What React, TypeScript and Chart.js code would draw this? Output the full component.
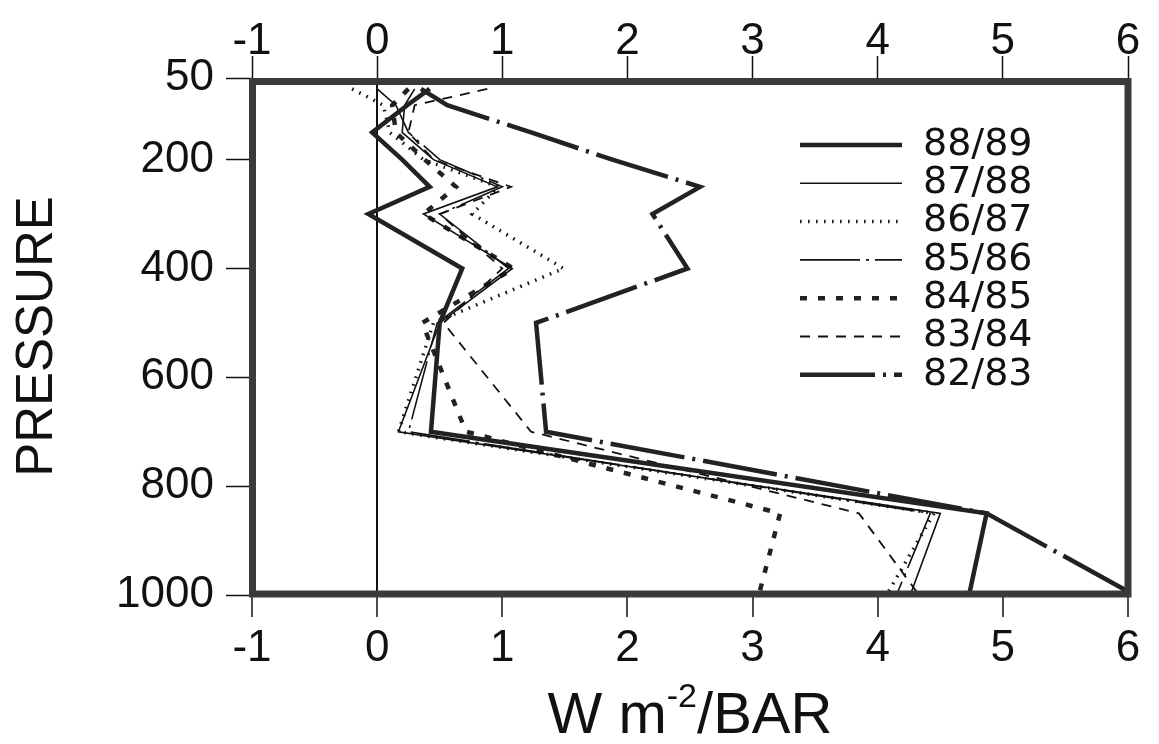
import React, { useEffect, useRef } from 'react';
import { Chart, registerables } from 'chart.js';

Chart.register(...registerables);

// ---------- data ----------
const PRESSURE_LEVELS = [70, 100, 150, 200, 250, 300, 400, 500, 700, 850, 1000];
const SERIES_NAMES = ['88/89', '87/88', '86/87', '85/86', '84/85', '83/84', '82/83'];

const S_88_89 = [0.42, 0.24, -0.04, 0.2, 0.42, -0.07, 0.68, 0.5, 0.43, 4.87, 4.73];
const S_87_88 = [0.3, 0.22, 0.2, 0.45, 0.96, 0.37, 1.08, 0.5, 0.17, 4.5, 4.26];
const S_86_87 = [-0.2, 0.05, 0.1, 0.37, 0.97, 0.76, 1.49, 0.45, 0.17, 4.45, 4.07];
const S_85_86 = [0.0, 0.15, 0.25, 0.5, 1.0, 0.5, 1.05, 0.48, 0.25, 4.42, 4.15];
const S_84_85 = [0.25, 0.12, 0.15, 0.38, 0.63, 0.37, 1.09, 0.36, 0.71, 3.22, 3.05];
const S_83_84 = [0.88, 0.3, 0.25, 0.45, 1.07, 0.5, 1.0, 0.53, 1.23, 3.85, 4.33];
const S_82_83 = [0.35, 0.56, 1.23, 1.88, 2.58, 2.2, 2.48, 1.27, 1.35, 4.87, 6.05];

const SERIES_VALUES = [S_88_89, S_87_88, S_86_87, S_85_86, S_84_85, S_83_84, S_82_83];

const X_MIN = -1;
const X_MAX = 6;
const PRESSURE_MIN = 50;
const PRESSURE_MAX = 1000;
const PRESSURE_TICKS = [50, 200, 400, 600, 800, 1000];

// ---------- styles ----------
const LINE_STYLES = [
  { width: 4.5, dash: [] as number[], color: '#222' },
  { width: 1.6, dash: [] as number[], color: '#111' },
  { width: 3.5, dash: [1.6, 6.4], color: '#111' },
  { width: 1.6, dash: [60, 6, 3, 6], color: '#111' },
  { width: 4.5, dash: [7, 11], color: '#222' },
  { width: 1.8, dash: [10, 8], color: '#111' },
  { width: 4.5, dash: [75, 8, 3, 8], color: '#222' },
];

const TICK_FONT = { family: "'Liberation Sans', Arial, Helvetica, sans-serif", size: 44 };

const framePlugin = {
  id: 'frameAndLegend',
  afterDraw(chart: any) {
    const ctx = chart.ctx;
    const ca = chart.chartArea;
    ctx.save();
    // frame
    ctx.strokeStyle = '#3a3a3a';
    ctx.lineWidth = 7;
    ctx.setLineDash([]);
    ctx.strokeRect(ca.left + 0.5, ca.top + 3.5, ca.right - ca.left - 0.5, ca.bottom - ca.top - 4.5);

    // legend
    const rowY0 = 145;
    const rowGap = 38.3;
    SERIES_NAMES.forEach((name, i) => {
      const st = LINE_STYLES[i];
      const y = rowY0 + i * rowGap;
      ctx.beginPath();
      ctx.setLineDash(st.dash);
      ctx.lineWidth = st.width;
      ctx.strokeStyle = st.color;
      ctx.lineCap = 'butt';
      ctx.moveTo(800, y);
      ctx.lineTo(902, y);
      ctx.stroke();
      ctx.setLineDash([]);
      ctx.fillStyle = '#111';
      ctx.font = "38px 'DejaVu Sans', sans-serif";
      ctx.textBaseline = 'middle';
      ctx.textAlign = 'left';
      ctx.fillText(name, 923, y);
    });

    // x-axis title with superscript
    const big = "58px 'Liberation Sans', Arial, sans-serif";
    const small = "34px 'Liberation Sans', Arial, sans-serif";
    const p1 = 'W m';
    const sup = '-2';
    const p2 = '/BAR';
    ctx.font = big;
    const w1 = ctx.measureText(p1).width;
    const w3 = ctx.measureText(p2).width;
    ctx.font = small;
    const w2 = ctx.measureText(sup).width;
    const total = w1 + w2 + w3;
    const cx = (ca.left + ca.right) / 2;
    let x = cx - total / 2;
    const base = 733;
    ctx.textBaseline = 'alphabetic';
    ctx.textAlign = 'left';
    ctx.fillStyle = '#111';
    ctx.font = big;
    ctx.fillText(p1, x, base);
    x += w1;
    ctx.font = small;
    ctx.fillText(sup, x, base - 26);
    x += w2;
    ctx.font = big;
    ctx.fillText(p2, x, base);
    ctx.restore();
  },
};

export default function App() {
  const canvasRef = useRef<HTMLCanvasElement | null>(null);

  useEffect(() => {
    const canvas = canvasRef.current;
    if (!canvas) return;

    const datasets = SERIES_NAMES.map((name, i) => ({
      label: name,
      data: PRESSURE_LEVELS.map((p, j) => ({ x: SERIES_VALUES[i][j], y: p })),
      borderColor: LINE_STYLES[i].color,
      borderWidth: LINE_STYLES[i].width,
      borderDash: LINE_STYLES[i].dash,
      borderCapStyle: 'butt' as const,
      borderJoinStyle: 'miter' as const,
      pointRadius: 0,
      tension: 0,
      fill: false,
      xAxisID: 'x',
      yAxisID: 'y',
      clip: i === 6 ? false : undefined,
    }));

    const chart = new Chart(canvas, {
      type: 'line',
      data: { datasets },
      plugins: [framePlugin],
      options: {
        animation: false,
        responsive: false,
        maintainAspectRatio: false,
        layout: { padding: { left: 0, right: 31, top: 0, bottom: 0 } },
        plugins: {
          legend: { display: false },
          tooltip: { enabled: false },
        },
        scales: {
          x: {
            type: 'linear',
            position: 'bottom',
            min: X_MIN,
            max: X_MAX,
            afterFit: (s: any) => {
              s.height = 149;
            },
            border: { display: false },
            grid: {
              drawOnChartArea: true,
              drawTicks: true,
              tickLength: 22,
              tickColor: '#111',
              tickWidth: 1.5,
              color: (c: any) => (c.tick && c.tick.value === 0 ? '#111' : 'rgba(0,0,0,0)'),
              lineWidth: (c: any) => (c.tick && c.tick.value === 0 ? 2 : 0),
            },
            ticks: {
              stepSize: 1,
              autoSkip: false,
              maxRotation: 0,
              padding: 5,
              color: '#111',
              font: TICK_FONT,
            },
          },
          x2: {
            type: 'linear',
            position: 'top',
            min: X_MIN,
            max: X_MAX,
            afterFit: (s: any) => {
              s.height = 78;
            },
            border: { display: false },
            grid: {
              drawOnChartArea: false,
              drawTicks: true,
              tickLength: 22,
              tickColor: '#111',
              tickWidth: 1.5,
            },
            ticks: {
              stepSize: 1,
              autoSkip: false,
              maxRotation: 0,
              padding: -12,
              color: '#111',
              font: TICK_FONT,
            },
          },
          y: {
            type: 'linear',
            position: 'left',
            reverse: true,
            min: PRESSURE_MIN,
            max: PRESSURE_MAX,
            afterFit: (s: any) => {
              s.width = 252;
            },
            afterBuildTicks: (s: any) => {
              s.ticks = PRESSURE_TICKS.map((v) => ({ value: v }));
            },
            border: { display: false },
            grid: {
              drawOnChartArea: false,
              drawTicks: true,
              tickLength: 26,
              tickColor: '#111',
              tickWidth: 1.5,
            },
            ticks: {
              autoSkip: false,
              padding: 12,
              color: '#111',
              font: TICK_FONT,
              callback: (v: any) => String(v),
            },
            title: {
              display: true,
              text: 'PRESSURE',
              color: '#111',
              font: { family: "'Liberation Sans', Arial, sans-serif", size: 51 },
              padding: { top: 7, bottom: 0 },
            },
          },
        },
      },
    } as any);

    return () => {
      chart.destroy();
    };
  }, []);

  return (
    <div style={{ position: 'absolute', left: 0, top: 0, width: 1159, height: 744, background: '#fff' }}>
      <canvas ref={canvasRef} width={1159} height={744} style={{ display: 'block' }} />
    </div>
  );
}
